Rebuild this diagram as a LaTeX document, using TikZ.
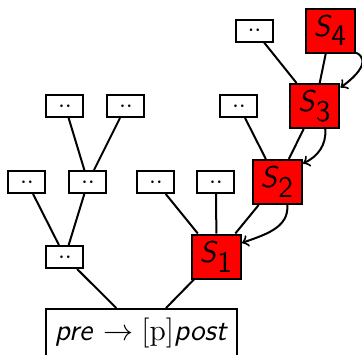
\documentclass[tikz,border=0pt]{standalone}
\begin{document}
\begin{tikzpicture}[x=0.4pt,y=-0.4pt,
  every node/.style={font=\sffamily},
  dotbox/.style={draw,line width=0.8pt,fill=white,minimum width=14.8pt,minimum height=8.8pt,inner sep=0pt,text height=5pt,text depth=0pt},
  sbox/.style={draw,line width=0.8pt,fill=red,minimum width=19.6pt,minimum height=17.6pt,inner sep=0pt,font=\sffamily\large},
  rootbox/.style={draw,line width=0.8pt,minimum width=76.4pt,minimum height=19.2pt,inner sep=0pt,font=\sffamily\large},
  edge/.style={line width=0.8pt},
  arr/.style={line width=0.8pt,->}]
\useasboundingbox (0,0) rectangle (362,355);
\node[rootbox] (root) at (141.5,333) {\textit{pre} $\rightarrow [\mathrm{p}]$\textit{post}};
\node[dotbox] (n1) at (65,257) {$\cdot\cdot$};
\node[dotbox] (a) at (27,182) {$\cdot\cdot$};
\node[dotbox] (b) at (88,182) {$\cdot\cdot$};
\node[dotbox] (c) at (65,106) {$\cdot\cdot$};
\node[dotbox] (d) at (126,106) {$\cdot\cdot$};
\node[dotbox] (e) at (156,182) {$\cdot\cdot$};
\node[dotbox] (f) at (216,182) {$\cdot\cdot$};
\node[dotbox] (g) at (239,106) {$\cdot\cdot$};
\node[dotbox] (h) at (254.5,30.5) {$\cdot\cdot$};
\node[sbox] (S1) at (216.5,256.5) {\textit{S}$_{\textsf{1}}$};
\node[sbox] (S2) at (277.5,182) {\textit{S}$_{\textsf{2}}$};
\node[sbox] (S3) at (315,106) {\textit{S}$_{\textsf{3}}$};
\node[sbox] (S4) at (330.5,30.5) {\textit{S}$_{\textsf{4}}$};
\draw[edge] (root) -- (n1);
\draw[edge] (root) -- (S1);
\draw[edge] (n1) -- (a);
\draw[edge] (n1) -- (b);
\draw[edge] (b) -- (c);
\draw[edge] (b) -- (d);
\draw[edge] (S1) -- (e);
\draw[edge] (S1) -- (f);
\draw[edge] (S1) -- (S2);
\draw[edge] (S2) -- (g);
\draw[edge] (S2) -- (S3);
\draw[edge] (S3) -- (h);
\draw[edge] (S3) -- (S4);
\draw[arr] (S4.-41) to[out=-25,in=35,looseness=1.2] (S3.36);
\draw[arr] (S3.-66) to[out=-85,in=25] (S2.36);
\draw[arr] (S2.-67) to[out=-85,in=20] (S1.28);
\end{tikzpicture}
\end{document}
